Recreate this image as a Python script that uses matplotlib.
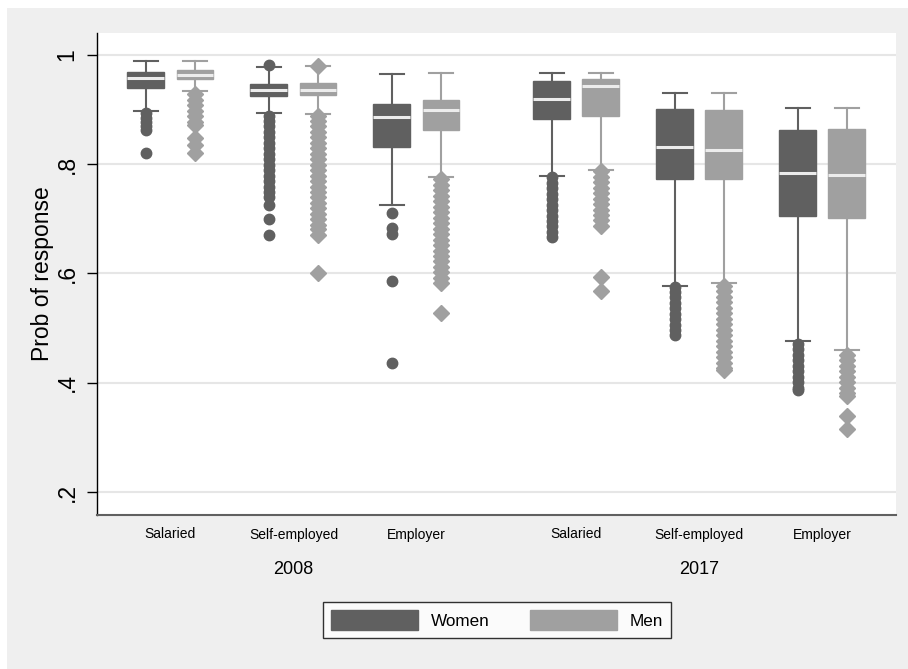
import matplotlib
matplotlib.use('Agg')
import matplotlib.pyplot as plt
from matplotlib.patches import Patch, Rectangle
import matplotlib.transforms as mtransforms
import numpy as np

plt.rcParams['font.family'] = ['Liberation Sans', 'DejaVu Sans']

# ---------------- data ----------------
categories = ['Salaried', 'Self-employed', 'Employer', 'Salaried', 'Self-employed', 'Employer']
years = ['2008', '2017']
series = ['Women', 'Men']

# box summaries, 2008 categories then 2017 categories
women_hi = [0.988, 0.977, 0.965, 0.966, 0.930, 0.902]
women_q3 = [0.968, 0.947, 0.910, 0.952, 0.901, 0.862]
women_med = [0.958, 0.935, 0.886, 0.919, 0.832, 0.783]
women_q1 = [0.939, 0.924, 0.832, 0.883, 0.773, 0.706]
women_lo = [0.897, 0.893, 0.725, 0.778, 0.577, 0.476]

men_hi = [0.988, 0.979, 0.967, 0.966, 0.930, 0.902]
men_q3 = [0.972, 0.948, 0.917, 0.956, 0.899, 0.865]
men_med = [0.964, 0.936, 0.899, 0.943, 0.825, 0.781]
men_q1 = [0.955, 0.927, 0.862, 0.889, 0.773, 0.702]
men_lo = [0.933, 0.892, 0.777, 0.789, 0.582, 0.460]

# outside values
w_sal08 = [0.893, 0.885, 0.877, 0.869, 0.863, 0.821]
w_self08 = [0.981, 0.889, 0.879, 0.869, 0.859, 0.849, 0.839, 0.829, 0.819, 0.809,
            0.799, 0.789, 0.779, 0.769, 0.759, 0.749, 0.740, 0.726, 0.700, 0.671]
w_emp08 = [0.711, 0.684, 0.673, 0.586, 0.436]
w_sal17 = [0.776, 0.766, 0.756, 0.746, 0.736, 0.726, 0.716, 0.706, 0.696, 0.686,
           0.676, 0.667]
w_self17 = [0.576, 0.566, 0.556, 0.546, 0.536, 0.526, 0.516, 0.506, 0.496, 0.487]
w_emp17 = [0.471, 0.461, 0.451, 0.441, 0.431, 0.421, 0.411, 0.401, 0.391, 0.386]

m_sal08 = [0.928, 0.918, 0.908, 0.898, 0.888, 0.878, 0.872, 0.848, 0.835, 0.821]
m_self08 = [0.980, 0.889, 0.879, 0.869, 0.859, 0.849, 0.839, 0.829, 0.819, 0.809,
            0.799, 0.789, 0.779, 0.769, 0.759, 0.749, 0.739, 0.729, 0.719, 0.709,
            0.699, 0.689, 0.682, 0.670, 0.601]
m_emp08 = [0.772, 0.762, 0.752, 0.742, 0.732, 0.722, 0.712, 0.702, 0.692, 0.682,
           0.672, 0.662, 0.652, 0.642, 0.632, 0.622, 0.612, 0.602, 0.592, 0.583,
           0.528]
m_sal17 = [0.787, 0.777, 0.767, 0.757, 0.747, 0.737, 0.727, 0.717, 0.707, 0.697,
           0.687, 0.593, 0.568]
m_self17 = [0.577, 0.567, 0.557, 0.547, 0.537, 0.527, 0.517, 0.507, 0.497, 0.487,
            0.477, 0.467, 0.457, 0.447, 0.437, 0.427, 0.424]
m_emp17 = [0.451, 0.441, 0.431, 0.421, 0.411, 0.401, 0.391, 0.381, 0.375, 0.339,
           0.316]

women_out = [w_sal08, w_self08, w_emp08, w_sal17, w_self17, w_emp17]
men_out = [m_sal08, m_self08, m_emp08, m_sal17, m_self17, m_emp17]

yticks = [0.2, 0.4, 0.6, 0.8, 1.0]
yticklabels = ['.2', '.4', '.6', '.8', '1']

# ---------------- style ----------------
DARK = '#606060'
LIGHT = '#a0a0a0'
MED = '#ececec'
BG = '#efefef'


def box_stats(hi, q3, med, q1, lo, out):
    return [dict(whishi=h, q3=a, med=m, q1=b, whislo=l, fliers=np.array(f))
            for h, a, m, b, l, f in zip(hi, q3, med, q1, lo, out)]


fig = plt.figure(figsize=(9.08, 6.69), dpi=100, facecolor='white')
fig.patches.append(Rectangle((7 / 908, 0), 1, 1 - 8 / 669, transform=fig.transFigure,
                             facecolor=BG, edgecolor='none', zorder=-10))

ax = fig.add_axes([97 / 908, 1 - 515 / 669, (896 - 97) / 908, (515 - 33) / 669])
ax.set_facecolor('white')

# category centres, with a wider gap between the two years
centres = np.r_[np.arange(3), np.arange(3) + 3.3]
offset = 0.2
bw = 0.30
capw = 0.195


def draw(stats, pos, color, marker, msize):
    ax.bxp(stats, positions=pos, widths=bw, capwidths=[capw] * len(pos),
           patch_artist=True, manage_ticks=False,
           boxprops=dict(facecolor=color, edgecolor=color, linewidth=1),
           medianprops=dict(color=MED, linewidth=2.2, solid_capstyle='butt'),
           whiskerprops=dict(color=color, linewidth=1.5),
           capprops=dict(color=color, linewidth=1.5),
           flierprops=dict(marker=marker, markersize=msize, markerfacecolor=color,
                           markeredgecolor=color, linestyle='none'))


draw(box_stats(women_hi, women_q3, women_med, women_q1, women_lo, women_out),
     centres - offset, DARK, 'o', 7.5)
draw(box_stats(men_hi, men_q3, men_med, men_q1, men_lo, men_out),
     centres + offset, LIGHT, 'D', 8.6)

ax.set_xlim(-0.597, 5.899)
ax.set_ylim(0.158, 1.040)

ax.set_yticks(yticks)
ax.set_yticklabels(yticklabels, rotation=90, va='center', fontsize=16.5)
ax.tick_params(axis='y', length=7.2, width=1, color='black', pad=6)
ax.yaxis.grid(True, color='#e6e6e6', linewidth=1.5)
ax.set_axisbelow(True)

ax.set_xticks(centres)
ax.set_xticklabels(categories, fontsize=10)
ax.tick_params(axis='x', length=0, pad=9)

ax.set_ylabel('Prob of response', fontsize=16.5)
ax.yaxis.set_label_coords(-0.0676, 0.5)
ax.yaxis.label.set_va('center')

for s in ['top', 'right']:
    ax.spines[s].set_visible(False)
ax.spines['left'].set_color('black')
ax.spines['left'].set_linewidth(1)
ax.spines['bottom'].set_color(DARK)
ax.spines['bottom'].set_linewidth(1.5)

# year labels under each group of three categories
trans = mtransforms.blended_transform_factory(ax.transData, ax.transAxes)
for i, yr in enumerate(years):
    ax.text(centres[3 * i + 1], -0.114, yr, transform=trans, ha='center', va='center',
            fontsize=13)

handles = [Patch(facecolor=DARK, edgecolor=DARK), Patch(facecolor=LIGHT, edgecolor=LIGHT)]
leg = fig.legend(handles, series, loc='center', bbox_to_anchor=(497 / 908, 1 - 620 / 669),
                 ncol=2, fontsize=12.3, frameon=True, fancybox=False, shadow=False,
                 handlelength=5.1, handleheight=1.45, handletextpad=0.76,
                 columnspacing=2.35, borderpad=0.45, borderaxespad=0)
leg.get_frame().set_edgecolor('black')
leg.get_frame().set_linewidth(1.0)
leg.get_frame().set_facecolor('white')

fig.savefig('out.png', dpi=100, facecolor=fig.get_facecolor())
